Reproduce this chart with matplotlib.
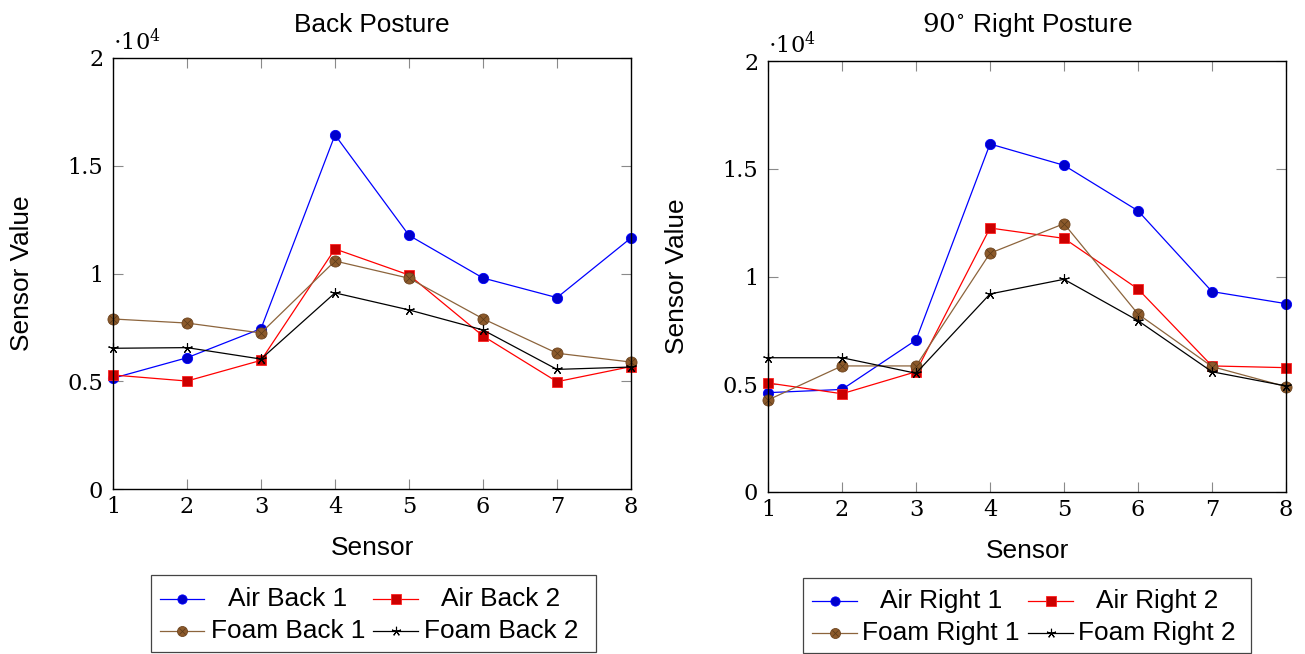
import matplotlib
matplotlib.use("Agg")
import matplotlib.pyplot as plt
from matplotlib.lines import Line2D
from matplotlib.patches import Rectangle
from matplotlib.ticker import FuncFormatter

# ---- data -------------------------------------------------------------
sensors = [1, 2, 3, 4, 5, 6, 7, 8]

air_back_1 = [5140, 6090, 7440, 16430, 11770, 9790, 8880, 11650]
air_back_2 = [5290, 5010, 5970, 11140, 9930, 7100, 4980, 5680]
foam_back_1 = [7890, 7700, 7240, 10580, 9780, 7900, 6300, 5890]
foam_back_2 = [6530, 6560, 6030, 9100, 8310, 7380, 5550, 5660]

air_right_1 = [4610, 4760, 7050, 16150, 15160, 13050, 9300, 8740]
air_right_2 = [5060, 4560, 5580, 12250, 11770, 9420, 5850, 5770]
foam_right_1 = [4270, 5850, 5850, 11080, 12450, 8260, 5820, 4890]
foam_right_2 = [6230, 6230, 5510, 9190, 9870, 7950, 5580, 4920]

back_labels = ["Air Back 1", "Air Back 2", "Foam Back 1", "Foam Back 2"]
right_labels = ["Air Right 1", "Air Right 2", "Foam Right 1", "Foam Right 2"]
titles = ["Back Posture", r"$90^{\circ}$ Right Posture"]
y_ticks = [0, 5000, 10000, 15000, 20000]

# ---- styles -----------------------------------------------------------
SANS = "Liberation Sans"
SERIF = "DejaVu Serif"
FS = 18.9
TICK_FS = 16.2

plt.rcParams["mathtext.fontset"] = "dejavuserif"

styles = [
    dict(color="#0000ff", marker="o", markersize=7.4, markerfacecolor="#0000cc",
         markeredgecolor="#0000ff", markeredgewidth=0.6),
    dict(color="#ff0000", marker="s", markersize=7.6, markerfacecolor="#cc0000",
         markeredgecolor="#ff2020", markeredgewidth=0.6),
    dict(color="#8c643c", marker="o", markersize=8.0, markerfacecolor="#8c5a2b",
         markeredgecolor="#6e4520", markeredgewidth=0.6),
    dict(color="#000000", marker=(5, 2, 0), markersize=7.5,
         markerfacecolor="none", markeredgecolor="#000000", markeredgewidth=0.8),
]

W, H = 1305, 654
fig = plt.figure(figsize=(W / 100, H / 100), dpi=100)

axes_px = [(113, 58, 518, 431), (768, 61, 518, 431)]
series_sets = [
    [air_back_1, air_back_2, foam_back_1, foam_back_2],
    [air_right_1, air_right_2, foam_right_1, foam_right_2],
]

fmt = FuncFormatter(lambda v, p: f"{v / 1e4:g}")

for (x0, y0, w, h), series, title in zip(axes_px, series_sets, titles):
    ax = fig.add_axes([x0 / W, 1 - (y0 + h) / H, w / W, h / H])
    for k, (vals, st) in enumerate(zip(series, styles)):
        ax.plot(sensors, vals, lw=0.9, clip_on=False, **st)
        if k == 2:
            # crossed-circle marks
            ax.plot(sensors, vals, ls="none", marker="x", markersize=5.2,
                    color="#5a3a1a", markeredgewidth=0.5, clip_on=False)
    ax.set_xlim(1, 8)
    ax.set_ylim(0, 20000)
    ax.set_xticks(sensors)
    ax.set_yticks(y_ticks)
    ax.yaxis.set_major_formatter(fmt)
    ax.tick_params(direction="in", length=7.5, width=0.8, color="#8a8a8a",
                   top=True, right=True, labelsize=TICK_FS)
    ax.tick_params(axis="y", pad=7)
    ax.tick_params(axis="x", pad=5)
    for lab in ax.get_xticklabels() + ax.get_yticklabels():
        lab.set_fontfamily(SERIF)
    for sp in ax.spines.values():
        sp.set_linewidth(1.0)
    ax.text(0.0, 1.01, r"$\cdot 10^{4}$", transform=ax.transAxes,
            fontsize=TICK_FS, ha="left", va="bottom")
    ax.set_title(title, family=SANS, fontsize=FS, pad=19 if "Back" in title else 21)
    ax.set_xlabel("Sensor", family=SANS, fontsize=FS)
    ax.xaxis.set_label_coords(0.5, -0.137)
    ax.xaxis.label.set_va("center")
    ax.set_ylabel("Sensor Value", family=SANS, fontsize=FS)
    ax.yaxis.set_label_coords(-0.1757, 0.5)
    ax.yaxis.label.set_va("center")

# ---- legends (centred text in each cell) -------------------------------
lg = fig.add_axes([0, 0, 1, 1], zorder=5)
lg.set_xlim(0, W)
lg.set_ylim(H, 0)
lg.axis("off")

legend_specs = [
    dict(box=(151, 575, 445, 77), labels=back_labels,
         handle_x=[(160, 204), (373, 418)], text_x=[288, 501], rows=[599, 631]),
    dict(box=(803, 578, 448, 75), labels=right_labels,
         handle_x=[(812, 857), (1028, 1073)], text_x=[941, 1157], rows=[601, 633]),
]

for spec in legend_specs:
    bx, by, bw, bh = spec["box"]
    lg.add_patch(Rectangle((bx, by), bw, bh, fill=False, ec="#444444", lw=0.9))
    for i, (lab, st) in enumerate(zip(spec["labels"], styles)):
        row, col = divmod(i, 2)
        xa, xb = spec["handle_x"][col]
        yy = spec["rows"][row]
        s = {k: v for k, v in st.items() if k != "color"}
        s["markersize"] = st["markersize"] * 0.9
        lg.add_line(Line2D([xa, xb], [yy, yy], color=st["color"], lw=0.9))
        lg.add_line(Line2D([(xa + xb) / 2], [yy], ls="none", **s))
        if i == 2:
            lg.add_line(Line2D([(xa + xb) / 2], [yy], ls="none", marker="x",
                               markersize=4.6, color="#5a3a1a", markeredgewidth=0.5))
        lg.text(spec["text_x"][col], yy, lab, family=SANS, fontsize=FS,
                ha="center", va="center")

fig.savefig("out.png", dpi=100)
